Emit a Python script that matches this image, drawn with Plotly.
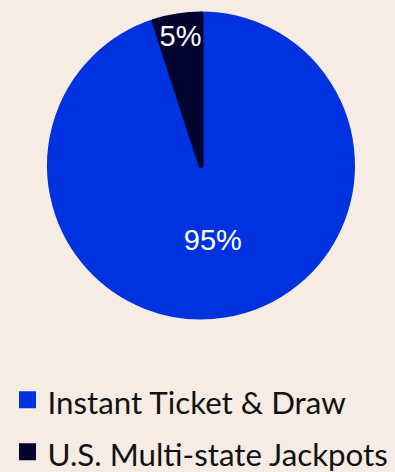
import plotly.graph_objects as go

labels = ["Instant Ticket & Draw", "U.S. Multi-state Jackpots"]
values = [95, 5]
text_labels = ["95%", "5%"]
colors = ["#0033DF", "#03052F"]

BG = "#F6ECE4"

legend_labels = ['<span style="font-size:31.3px">' + l + '</span>' for l in labels]

fig = go.Figure(
    go.Pie(
        labels=legend_labels,
        values=values,
        text=text_labels,
        textinfo="text",
        textposition="inside",
        insidetextorientation="horizontal",
        textfont=dict(family="Liberation Sans, Arial", size=29, color="white"),
        marker=dict(colors=colors, line=dict(color=colors, width=5)),
        sort=False,
        direction="clockwise",
        rotation=0,
        hoverinfo="label+percent",
        domain=dict(x=[0.1253, 0.8924], y=[0.3284, 0.9703]),
    )
)

fig.update_layout(
    width=395,
    height=472,
    margin=dict(l=0, r=0, t=0, b=0, autoexpand=False),
    paper_bgcolor=BG,
    plot_bgcolor=BG,
    showlegend=True,
    uniformtext=dict(minsize=29, mode="show"),
    legend=dict(
        orientation="v",
        x=0.019,
        xanchor="left",
        y=0.219,
        yanchor="top",
        font=dict(family="Lato", size=37.7, color="#111111"),
        bgcolor="rgba(0,0,0,0)",
        itemclick=False,
        itemdoubleclick=False,
    ),
)

fig.write_html("out.html")
